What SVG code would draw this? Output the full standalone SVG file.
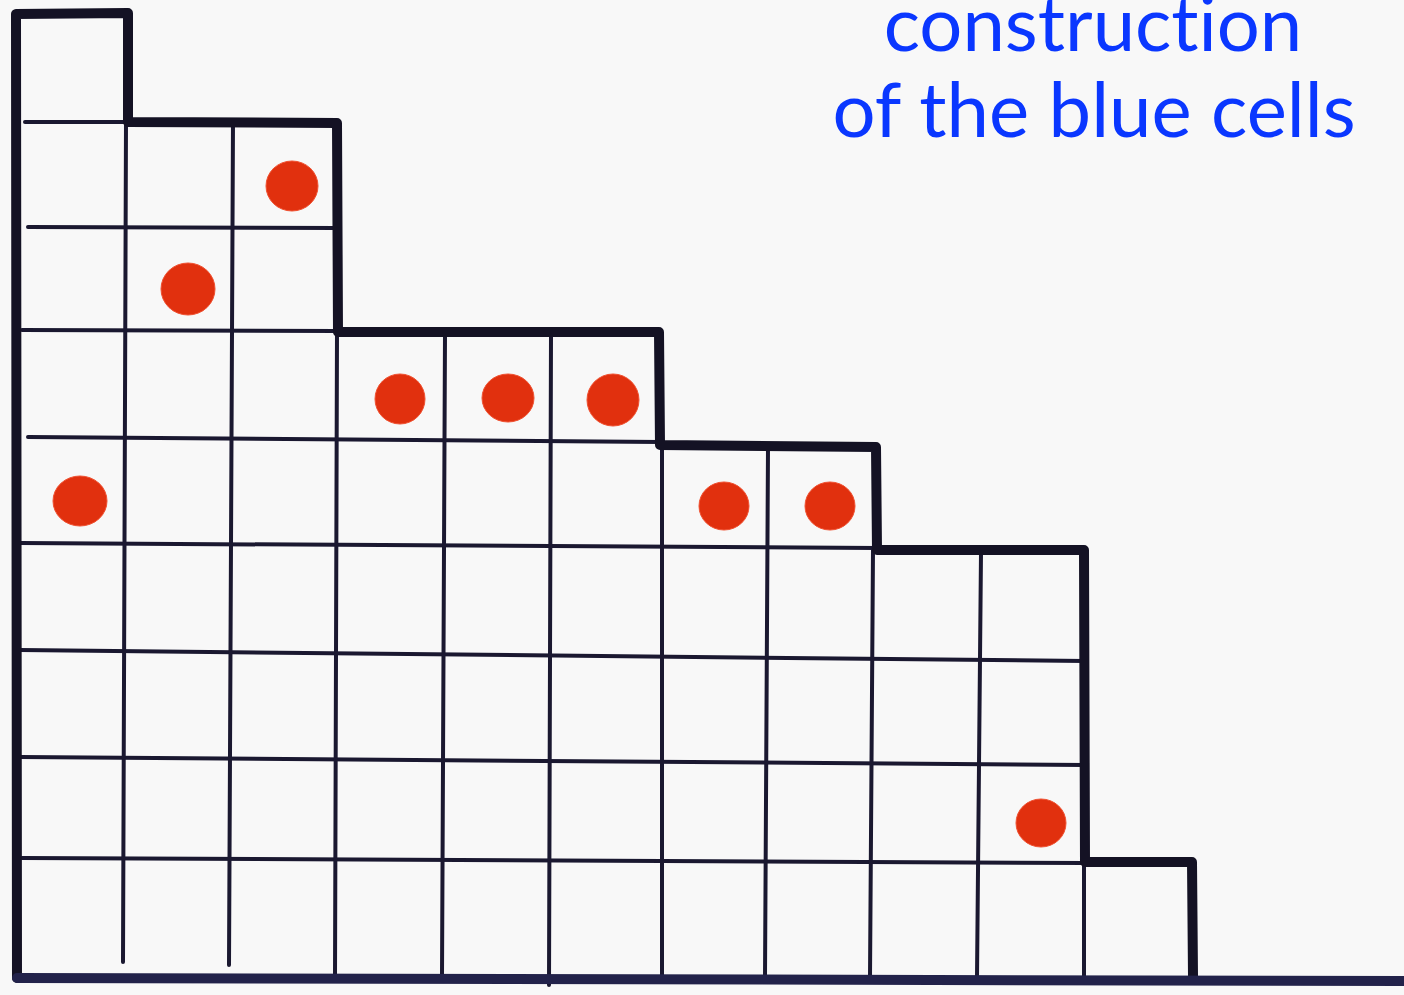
<svg xmlns="http://www.w3.org/2000/svg" width="1404" height="995" viewBox="0 0 1404 995">
<style>
.thin{stroke:#1a1830;stroke-width:4;stroke-linecap:round;fill:none}
.thick{stroke:#141224;stroke-width:10;stroke-linecap:round;stroke-linejoin:round;fill:none}
.base{stroke:#22224a;stroke-width:10;stroke-linecap:round;fill:none}
.dot{fill:#e1300e;stroke:#f05030;stroke-width:1}
.title{font-family:"Lato","Open Sans","Liberation Sans",sans-serif;font-size:76px;fill:#0a37ff;text-anchor:middle;font-variant-ligatures:none;font-feature-settings:"liga" 0}
</style>
<rect x="0" y="0" width="1404" height="995" fill="#f8f8f8"/>
<g id="grid-thin">
<line class="thin" x1="25" y1="122" x2="128" y2="122"/>
<line class="thin" x1="28" y1="227" x2="337" y2="228"/>
<line class="thin" x1="22" y1="330" x2="337" y2="331"/>
<line class="thin" x1="28" y1="437" x2="660" y2="442"/>
<line class="thin" x1="20" y1="543" x2="877" y2="548"/>
<line class="thin" x1="20" y1="650" x2="1085" y2="661"/>
<line class="thin" x1="20" y1="757" x2="1085" y2="765"/>
<line class="thin" x1="22" y1="858" x2="1085" y2="863"/>
<line class="thin" x1="126" y1="122" x2="123" y2="962"/>
<line class="thin" x1="233" y1="122" x2="229" y2="965"/>
<line class="thin" x1="337" y1="332" x2="335" y2="977"/>
<line class="thin" x1="445" y1="335" x2="442" y2="977"/>
<line class="thin" x1="551" y1="335" x2="549" y2="985"/>
<line class="thin" x1="662" y1="445" x2="662" y2="977"/>
<line class="thin" x1="768" y1="448" x2="765" y2="977"/>
<line class="thin" x1="873" y1="550" x2="870" y2="977"/>
<line class="thin" x1="981" y1="553" x2="977" y2="977"/>
<line class="thin" x1="1084" y1="862" x2="1084" y2="977"/>
</g>
<g id="outline">
<path class="thick" d="M17,978 L16,14 L128,13 L128,122 L337,123 L338,332 L659,332 L660,445 L876,447 L877,550 L1084,550 L1085,862 L1192,862 L1193,976"/>
<path class="base" d="M17,978 L1404,981"/>
</g>
<g id="dots">
<ellipse class="dot" cx="292" cy="186" rx="26" ry="25"/>
<ellipse class="dot" cx="188" cy="289" rx="27" ry="26"/>
<ellipse class="dot" cx="400" cy="399" rx="25" ry="25"/>
<ellipse class="dot" cx="508" cy="398" rx="26" ry="24"/>
<ellipse class="dot" cx="613" cy="400" rx="26" ry="26"/>
<ellipse class="dot" cx="80" cy="501" rx="27" ry="25"/>
<ellipse class="dot" cx="724" cy="506" rx="25" ry="24"/>
<ellipse class="dot" cx="830" cy="506" rx="25" ry="24"/>
<ellipse class="dot" cx="1041" cy="823" rx="25" ry="24"/>
</g>
<g id="label">
<text class="title" x="1093" y="51">construction</text>
<text class="title" x="1094" y="137">of the blue cells</text>
</g>
</svg>
